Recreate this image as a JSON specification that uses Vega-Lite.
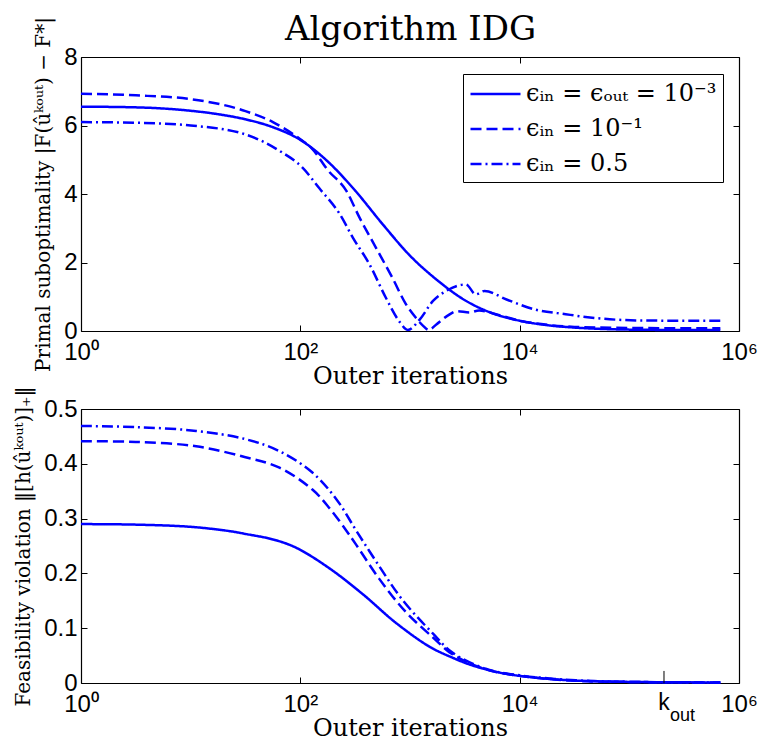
{
  "$schema": "https://vega.github.io/schema/vega-lite/v6.json",
  "background": "white",
  "padding": {"left": 13, "top": 12, "right": 5, "bottom": 0},
  "datasets": {
    "top": [
      {"k":1,"v":6.55,"s":"a"},{"k":3.162,"v":6.53,"s":"a"},{"k":10,"v":6.43,"s":"a"},{"k":17.78,"v":6.33,"s":"a"},{"k":31.62,"v":6.18,"s":"a"},{"k":56.23,"v":5.95,"s":"a"},{"k":100,"v":5.58,"s":"a"},{"k":177.8,"v":4.95,"s":"a"},{"k":316.2,"v":4.1,"s":"a"},{"k":562.3,"v":3.12,"s":"a"},{"k":1000,"v":2.2,"s":"a"},{"k":1778,"v":1.48,"s":"a"},{"k":3162,"v":0.9,"s":"a"},{"k":5623,"v":0.52,"s":"a"},{"k":10000,"v":0.3,"s":"a"},{"k":17783,"v":0.17,"s":"a"},{"k":31623,"v":0.1,"s":"a"},{"k":56234,"v":0.06,"s":"a"},{"k":100000,"v":0.04,"s":"a"},{"k":316228,"v":0.03,"s":"a"},{"k":676083,"v":0.03,"s":"a"},
      {"k":1,"v":6.93,"s":"b"},{"k":3.162,"v":6.88,"s":"b"},{"k":10,"v":6.77,"s":"b"},{"k":31.62,"v":6.42,"s":"b"},{"k":56.23,"v":6.1,"s":"b"},{"k":100,"v":5.6,"s":"b"},{"k":125.9,"v":5.35,"s":"b"},{"k":177.8,"v":4.7,"s":"b"},{"k":263,"v":4.09,"s":"b"},{"k":346.7,"v":3.31,"s":"b"},{"k":489.8,"v":2.43,"s":"b"},{"k":691.8,"v":1.55,"s":"b"},{"k":912,"v":0.8,"s":"b"},{"k":1122,"v":0.4,"s":"b"},{"k":1318,"v":0.15,"s":"b"},{"k":1479,"v":0.03,"s":"b"},{"k":1738,"v":0.19,"s":"b"},{"k":2188,"v":0.44,"s":"b"},{"k":2692,"v":0.58,"s":"b"},{"k":3467,"v":0.54,"s":"b"},{"k":4266,"v":0.6,"s":"b"},{"k":5623,"v":0.52,"s":"b"},{"k":10000,"v":0.3,"s":"b"},{"k":17783,"v":0.18,"s":"b"},{"k":31623,"v":0.12,"s":"b"},{"k":100000,"v":0.09,"s":"b"},{"k":316228,"v":0.08,"s":"b"},{"k":676083,"v":0.08,"s":"b"},
      {"k":1,"v":6.1,"s":"c"},{"k":3.162,"v":6.08,"s":"c"},{"k":10,"v":6.0,"s":"c"},{"k":31.62,"v":5.74,"s":"c"},{"k":64.57,"v":5.26,"s":"c"},{"k":104.7,"v":4.77,"s":"c"},{"k":147.9,"v":4.18,"s":"c"},{"k":229.1,"v":3.41,"s":"c"},{"k":302,"v":2.72,"s":"c"},{"k":426.6,"v":1.95,"s":"c"},{"k":602.6,"v":0.97,"s":"c"},{"k":794.3,"v":0.29,"s":"c"},{"k":955,"v":0.03,"s":"c"},{"k":1230,"v":0.34,"s":"c"},{"k":1622,"v":0.88,"s":"c"},{"k":2138,"v":1.17,"s":"c"},{"k":3236,"v":1.36,"s":"c"},{"k":3981,"v":1.07,"s":"c"},{"k":4786,"v":1.17,"s":"c"},{"k":7586,"v":0.92,"s":"c"},{"k":14125,"v":0.62,"s":"c"},{"k":26303,"v":0.49,"s":"c"},{"k":39811,"v":0.41,"s":"c"},{"k":114815,"v":0.31,"s":"c"},{"k":316228,"v":0.3,"s":"c"},{"k":676083,"v":0.3,"s":"c"}
    ],
    "bottom": [
      {"k":1,"v":0.29,"s":"a"},{"k":3.162,"v":0.289,"s":"a"},{"k":10,"v":0.285,"s":"a"},{"k":22.9,"v":0.277,"s":"a"},{"k":31.62,"v":0.272,"s":"a"},{"k":56.23,"v":0.262,"s":"a"},{"k":91.2,"v":0.247,"s":"a"},{"k":182,"v":0.21,"s":"a"},{"k":371.5,"v":0.162,"s":"a"},{"k":741.3,"v":0.11,"s":"a"},{"k":1514,"v":0.066,"s":"a"},{"k":2455,"v":0.046,"s":"a"},{"k":3467,"v":0.034,"s":"a"},{"k":5623,"v":0.022,"s":"a"},{"k":10000,"v":0.013,"s":"a"},{"k":28184,"v":0.005,"s":"a"},{"k":100000,"v":0.002,"s":"a"},{"k":676083,"v":0.001,"s":"a"},
      {"k":1,"v":0.441,"s":"b"},{"k":3.162,"v":0.44,"s":"b"},{"k":11.22,"v":0.432,"s":"b"},{"k":31.62,"v":0.412,"s":"b"},{"k":64.57,"v":0.393,"s":"b"},{"k":128.8,"v":0.353,"s":"b"},{"k":186.2,"v":0.318,"s":"b"},{"k":263,"v":0.278,"s":"b"},{"k":323.6,"v":0.252,"s":"b"},{"k":524.8,"v":0.19,"s":"b"},{"k":912,"v":0.13,"s":"b"},{"k":1622,"v":0.083,"s":"b"},{"k":2455,"v":0.052,"s":"b"},{"k":4898,"v":0.025,"s":"b"},{"k":10000,"v":0.013,"s":"b"},{"k":32359,"v":0.004,"s":"b"},{"k":100000,"v":0.002,"s":"b"},{"k":676083,"v":0.001,"s":"b"},
      {"k":1,"v":0.469,"s":"c"},{"k":3.162,"v":0.467,"s":"c"},{"k":11.22,"v":0.46,"s":"c"},{"k":31.62,"v":0.445,"s":"c"},{"k":64.57,"v":0.423,"s":"c"},{"k":128.8,"v":0.384,"s":"c"},{"k":213.8,"v":0.335,"s":"c"},{"k":323.6,"v":0.278,"s":"c"},{"k":524.8,"v":0.213,"s":"c"},{"k":851.1,"v":0.152,"s":"c"},{"k":1622,"v":0.09,"s":"c"},{"k":2455,"v":0.055,"s":"c"},{"k":4898,"v":0.026,"s":"c"},{"k":10000,"v":0.014,"s":"c"},{"k":32359,"v":0.005,"s":"c"},{"k":100000,"v":0.002,"s":"c"},{"k":676083,"v":0.001,"s":"c"}
    ],
    "kout": [{"k":207000,"t":"k","sub":"out"}]
  },
  "spacing": 78,
  "bounds": "flush",
  "resolve": {"scale": {"strokeDash": "independent"}, "legend": {"strokeDash": "independent"}},
  "vconcat": [
    {
      "width": 658,
      "height": 274,
      "data": {"name": "top"},
      "layer": [
        {
          "mark": {"type": "line", "color": "#0000ff", "strokeWidth": 2.5, "interpolate": "monotone"},
          "encoding": {
            "x": {"field": "k", "type": "quantitative", "scale": {"type": "log", "domain": [1, 1000000], "nice": false},
                  "axis": {"values": [1, 100, 10000, 1000000], "labelFlush": false, "title": "Outer iterations",
                           "labelExpr": "'10' + (datum.value == 1 ? '⁰' : datum.value == 100 ? '²' : datum.value == 10000 ? '⁴' : '⁶')"}},
            "y": {"field": "v", "type": "quantitative", "scale": {"domain": [0, 8], "nice": false},
                  "axis": {"values": [0, 2, 4, 6, 8], "title": "Primal suboptimality |F(ûᵏᵒᵘᵗ) − F*|"}},
            "strokeDash": {"field": "s", "type": "nominal",
                           "scale": {"domain": ["a", "b", "c"], "range": [[1, 0], [11, 5], [11, 4, 2, 4]]},
                           "legend": {"orient": "none", "legendX": 382, "legendY": 17, "title": null,
                                      "labelFont": "DejaVu Serif", "labelFontSize": 24, "labelColor": "black", "labelLimit": 400,
                                      "symbolType": "M-1,0H3", "symbolSize": 625, "symbolStrokeWidth": 2.5, "symbolStrokeColor": "#0000ff",
                                      "strokeColor": "black", "fillColor": "white", "padding": 6, "rowPadding": 9, "labelOffset": 29,
                                      "labelExpr": "datum.label == 'a' ? 'ϵᵢₙ = ϵₒᵤₜ = 10⁻³' : datum.label == 'b' ? 'ϵᵢₙ = 10⁻¹' : 'ϵᵢₙ = 0.5'"}}
          }
        },
        {
          "mark": {"type": "point", "opacity": 0},
          "encoding": {
            "x": {"field": "k", "type": "quantitative",
                  "axis": {"orient": "top", "labels": false, "values": [1, 100, 10000, 1000000],
                           "title": "Algorithm IDG", "titleFont": "DejaVu Serif", "titleFontSize": 34, "titlePadding": 10}},
            "y": {"field": "v", "type": "quantitative", "axis": {"orient": "right", "labels": false, "title": null, "values": [0, 2, 4, 6, 8]}}
          }
        }
      ],
      "resolve": {"axis": {"x": "independent", "y": "independent"}}
    },
    {
      "width": 658,
      "height": 274,
      "layer": [
        {
          "data": {"name": "bottom"},
          "mark": {"type": "line", "color": "#0000ff", "strokeWidth": 2.5, "interpolate": "catmull-rom"},
          "encoding": {
            "x": {"field": "k", "type": "quantitative", "scale": {"type": "log", "domain": [1, 1000000], "nice": false},
                  "axis": {"values": [1, 100, 10000, 1000000], "labelFlush": false, "title": "Outer iterations",
                           "labelExpr": "'10' + (datum.value == 1 ? '⁰' : datum.value == 100 ? '²' : datum.value == 10000 ? '⁴' : '⁶')"}},
            "y": {"field": "v", "type": "quantitative", "scale": {"domain": [0, 0.5], "nice": false},
                  "axis": {"values": [0, 0.1, 0.2, 0.3, 0.4, 0.5], "title": "Feasibility violation ‖[h(ûᵏᵒᵘᵗ)]₊‖",
                           "labelExpr": "datum.value == 0 ? '0' : datum.label"}},
            "strokeDash": {"field": "s", "type": "nominal",
                           "scale": {"domain": ["a", "b", "c"], "range": [[1, 0], [11, 5], [11, 4, 2, 4]]},
                           "legend": null}
          }
        },
        {
          "data": {"name": "bottom"},
          "mark": {"type": "point", "opacity": 0},
          "encoding": {
            "x": {"field": "k", "type": "quantitative", "axis": {"orient": "top", "labels": false, "title": null, "values": [1, 100, 10000, 1000000]}},
            "y": {"field": "v", "type": "quantitative", "axis": {"orient": "right", "labels": false, "title": null, "values": [0, 0.1, 0.2, 0.3, 0.4, 0.5]}}
          }
        },
        {
          "data": {"name": "kout"},
          "mark": {"type": "rule", "color": "black", "strokeWidth": 1},
          "encoding": {
            "x": {"field": "k", "type": "quantitative", "axis": null},
            "y": {"datum": 0, "type": "quantitative", "axis": null},
            "y2": {"datum": 0.022}
          }
        },
        {
          "data": {"name": "kout"},
          "mark": {"type": "text", "font": "Liberation Sans", "fontSize": 23, "baseline": "alphabetic", "align": "center", "dy": 27, "color": "black"},
          "encoding": {
            "x": {"field": "k", "type": "quantitative", "axis": null},
            "y": {"datum": 0, "type": "quantitative", "axis": null},
            "text": {"field": "t"}
          }
        },
        {
          "data": {"name": "kout"},
          "mark": {"type": "text", "font": "Liberation Sans", "fontSize": 18, "baseline": "alphabetic", "align": "left", "dx": 6, "dy": 38, "color": "black"},
          "encoding": {
            "x": {"field": "k", "type": "quantitative", "axis": null},
            "y": {"datum": 0, "type": "quantitative", "axis": null},
            "text": {"field": "sub"}
          }
        }
      ],
      "resolve": {"axis": {"x": "independent", "y": "independent"}}
    }
  ],
  "config": {
    "view": {"stroke": null},
    "axis": {
      "grid": false,
      "labelFont": "Liberation Sans", "labelFontSize": 24, "labelColor": "black",
      "titleFont": "DejaVu Serif", "titleFontWeight": "normal", "titleColor": "black",
      "domainColor": "black", "domainWidth": 1.2, "tickColor": "black", "tickWidth": 1,
      "tickSize": -6
    },
    "axisX": {"titleFontSize": 24, "titlePadding": 0, "labelPadding": 15},
    "axisY": {"titleFontSize": 20, "titlePadding": 10, "labelPadding": 10}
  }
}
